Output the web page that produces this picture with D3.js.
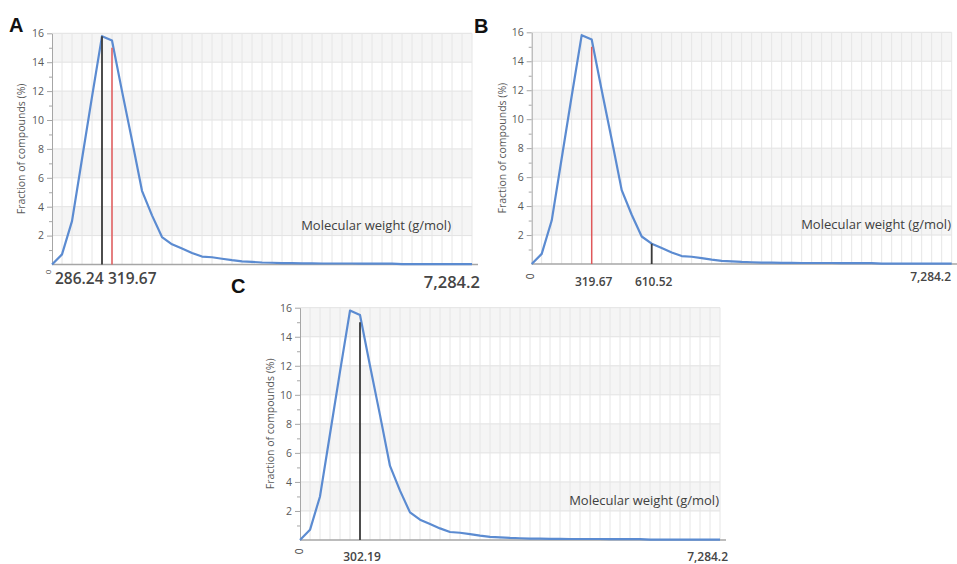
<!DOCTYPE html>
<html>
<head>
<meta charset="utf-8">
<script src="https://cdn.jsdelivr.net/npm/d3@7"></script>
<style>
  body { margin: 0; background: #fff; }
  svg { display: block; }
  text { font-family: "Open Sans", "Liberation Sans", sans-serif; }
</style>
</head>
<body>
<script>
// fraction of compounds (%) per molecular weight bin
const fraction = [0, 0.7, 3.0, 7.3, 11.6, 15.8, 15.5, 12.0, 8.6, 5.1, 3.4, 1.9, 1.4, 1.1, 0.8,
  0.55, 0.5, 0.4, 0.3, 0.22, 0.18, 0.14, 0.12, 0.1, 0.09, 0.08, 0.08, 0.07, 0.07, 0.07, 0.07,
  0.06, 0.06, 0.06, 0.06, 0.03, 0.03, 0.03, 0.03, 0.02, 0.02, 0.02, 0.02];
const majorTicks = [2, 4, 6, 8, 10, 12, 14, 16];
const minorTicks = [1, 3, 5, 7, 9, 11, 13, 15];
const bands = [[2, 4], [6, 8], [10, 12], [14, 16]];
const lastLabel = "7,284.2";

// markers per panel: bin index, label, height of the line
const panelIds = ["A", "B", "C"];
const markerBins = { A: [5, 6], B: [6, 12], C: [6] };
const markerLabels = { A: ["286.24", "319.67"], B: ["319.67", "610.52"], C: ["302.19"] };
const markerTops = { A: [15.8, 15.0], B: [15.0, 1.4], C: [15.0] };
const markerKinds = { A: ["black", "red"], B: ["red", "black"], C: ["black"] };

const colors = { black: "#3a3a3a", red: "#e0585a", curve: "#5b8bd1" };

const layout = {
  A: { x0: 52, y0: 264.5, y16: 33.3, letter: [9, 31.5], yTitleX: 21, labY: 279, labSize: 15.5,
       lastSize: 16.5, last: [480, 282.5], mw: [451, 225], zero: [48, 272], big: true },
  B: { x0: 531.7, y0: 264, y16: 32.3, letter: [474, 33], yTitleX: 502, labY: 282, labSize: 12,
       lastSize: 12, last: [951, 277], mw: [951, 224], zero: [530.5, 276.5] },
  C: { x0: 300, y0: 540, y16: 307.7, letter: [231, 293], yTitleX: 270, labY: 557, labSize: 12,
       lastSize: 12, last: [728, 556.5], mw: [719, 500], zero: [299.5, 551.5] }
};

const W = 957, H = 564, step = 10;

const svg = d3.select("body").append("svg")
  .attr("width", W)
  .attr("height", H);

panelIds.forEach(function(id) {
  const L = layout[id];
  const n = fraction.length - 1;
  const x = d3.scaleLinear().domain([0, n]).range([L.x0, L.x0 + n * step]);
  const y = d3.scaleLinear().domain([0, 16]).range([L.y0, L.y16]);
  const g = svg.append("g").attr("class", "panel-" + id);

  // shaded bands
  g.selectAll("rect.band")
    .data(bands)
    .enter()
    .append("rect")
    .attr("x", x(0))
    .attr("width", x(n) - x(0))
    .attr("y", d => y(d[1]))
    .attr("height", d => y(d[0]) - y(d[1]))
    .style("fill", "#f5f5f5");

  // horizontal grid
  g.selectAll("line.hgrid")
    .data(majorTicks)
    .enter()
    .append("line")
    .attr("x1", x(0)).attr("x2", x(n))
    .attr("y1", d => y(d)).attr("y2", d => y(d))
    .style("stroke", "#e2e2e2")
    .style("stroke-width", 1);

  // vertical grid, one per bin
  g.selectAll("line.vgrid")
    .data(fraction.map((d, i) => i).slice(1))
    .enter()
    .append("line")
    .attr("x1", d => x(d)).attr("x2", d => x(d))
    .attr("y1", y(0)).attr("y2", y(16))
    .style("stroke", "#e6e6e6")
    .style("stroke-width", 1);

  // y axis
  const yAxis = d3.axisLeft(y).tickValues(majorTicks).tickSize(5).tickSizeOuter(0).tickPadding(3);
  const ya = g.append("g")
    .attr("transform", "translate(" + x(0) + ",0)")
    .call(yAxis);
  ya.select(".domain").style("stroke", "#a6a6a6");
  ya.selectAll(".tick line").style("stroke", "#a6a6a6");
  ya.selectAll(".tick text")
    .style("font-size", "10.5px")
    .style("fill", "#595959");

  const yMinor = d3.axisLeft(y).tickValues(minorTicks).tickSize(3).tickFormat("");
  const ym = g.append("g")
    .attr("transform", "translate(" + x(0) + ",0)")
    .call(yMinor);
  ym.select(".domain").remove();
  ym.selectAll(".tick line").style("stroke", "#a6a6a6");

  // x axis line
  const xa = g.append("g")
    .attr("transform", "translate(0," + y(0) + ")")
    .call(d3.axisBottom(x).tickValues([]).tickSizeOuter(0));
  xa.select(".domain")
    .attr("d", "M" + x(0) + ",0H" + (x(n) + 6))
    .style("stroke", "#a6a6a6")
    .style("stroke-width", 1.5);

  // curve
  const line = d3.line()
    .x((d, i) => x(i))
    .y(d => y(d));
  g.append("path")
    .datum(fraction)
    .attr("d", line)
    .style("fill", "none")
    .style("stroke", colors.curve)
    .style("stroke-width", 2.2)
    .style("stroke-linejoin", "round");

  // marker lines
  markerBins[id].forEach(function(b, k) {
    g.append("line")
      .attr("x1", x(b)).attr("x2", x(b))
      .attr("y1", y(0)).attr("y2", y(markerTops[id][k]))
      .style("stroke", colors[markerKinds[id][k]])
      .style("stroke-width", markerKinds[id][k] === "black" ? 1.8 : 1.5);
  });

  // x labels
  markerBins[id].forEach(function(b, k) {
    let anchor = "middle", xx = x(b) + 2;
    if (L.big) {
      anchor = k === 0 ? "end" : "start";
      xx = k === 0 ? x(b) + 1.5 : x(b) - 4;
    }
    g.append("text")
      .attr("x", xx)
      .attr("y", L.labY)
      .attr("dy", "0.35em")
      .attr("text-anchor", anchor)
      .style("font-size", L.labSize + "px")
      .style("font-weight", 600)
      .style("fill", "#454545")
      .text(markerLabels[id][k]);
  });

  g.append("text")
    .attr("x", L.last[0])
    .attr("y", L.last[1])
    .attr("dy", "0.35em")
    .attr("text-anchor", "end")
    .style("font-size", L.lastSize + "px")
    .style("font-weight", 600)
    .style("fill", "#454545")
    .text(lastLabel);

  g.append("text")
    .attr("transform", "translate(" + L.zero[0] + "," + L.zero[1] + ") rotate(-90)")
    .attr("dy", "0.35em")
    .attr("text-anchor", "middle")
    .style("font-size", L.big ? "8px" : "10px")
    .style("fill", "#454545")
    .text("0");

  // titles
  g.append("text")
    .attr("x", L.mw[0])
    .attr("y", L.mw[1])
    .attr("dy", "0.35em")
    .attr("text-anchor", "end")
    .style("font-size", "13px")
    .style("fill", "#404040")
    .text("Molecular weight (g/mol)");

  g.append("text")
    .attr("transform", "translate(" + L.yTitleX + "," + ((y(0) + y(16)) / 2) + ") rotate(-90)")
    .attr("dy", "0.35em")
    .attr("text-anchor", "middle")
    .style("font-size", "10.5px")
    .style("fill", "#595959")
    .text("Fraction of compounds (%)");

  g.append("text")
    .attr("x", L.letter[0])
    .attr("y", L.letter[1])
    .style("font-family", "'Liberation Sans', Arial, sans-serif")
    .style("font-size", "20px")
    .style("font-weight", "bold")
    .style("fill", "#111")
    .text(id);
});
</script>
</body>
</html>
